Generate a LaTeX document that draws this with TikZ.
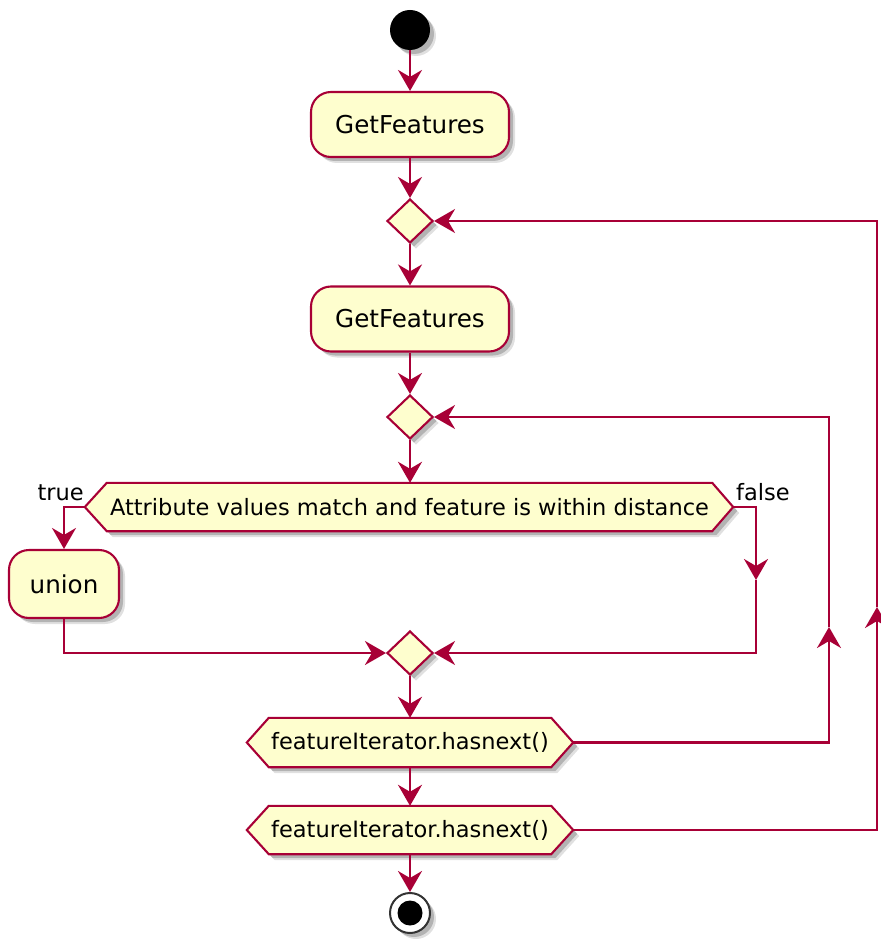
\documentclass[tikz,border=0pt]{standalone}
\usepackage{fontspec}
\setmainfont{DejaVu Sans}
\usetikzlibrary{arrows.meta,shadows,shapes.geometric}
\definecolor{pumlred}{HTML}{A80036}
\definecolor{pumlfill}{HTML}{FEFECE}
\pgfdeclarelayer{background}
\pgfsetlayers{background,main}
\tikzset{
  shad/.style={drop shadow={shadow xshift=6pt, shadow yshift=-6pt, opacity=0.12, fill=black},
               drop shadow={shadow xshift=4pt, shadow yshift=-4pt, opacity=0.2, fill=black}},
  act/.style={draw=pumlred, fill=pumlfill, line width=2.1pt, rounded corners=20pt, inner sep=0pt,
    minimum width=198pt, minimum height=65pt, font=\fontsize{24.6}{28}\selectfont, shad},
  dia/.style={diamond, draw=pumlred, fill=pumlfill, line width=2.1pt, inner sep=0pt,
    minimum width=46pt, minimum height=44pt, shad},
  hextext/.style={inner sep=0pt, minimum height=48pt, font=\fontsize{22.5}{26}\selectfont},
  hexshape/.style={draw=pumlred, fill=pumlfill, line width=2.1pt, line join=miter, shad},
  flow/.style={draw=pumlred, line width=2.4pt, -{Stealth[length=21pt,width=24pt,inset=7pt]}},
  lbl/.style={inner sep=0pt, font=\fontsize{22.5}{26}\selectfont},
  startc/.style={circle, fill=black, minimum size=40pt, inner sep=0pt, shad},
  endc/.style={circle, draw=black!80, fill=white, line width=2pt, minimum size=40pt, inner sep=0pt, shad},
  endin/.style={circle, fill=black, minimum size=25pt, inner sep=0pt},
}
\begin{document}
\begin{tikzpicture}[x=1pt,y=-1pt]
\useasboundingbox (0,0) rectangle (880,941);
\node[startc] (start) at (410,30) {};
\node[act] (gf1) at (410,124.5) {GetFeatures};
\node[dia] (d1) at (410,221) {};
\node[act] (gf2) at (410,319) {GetFeatures};
\node[dia] (d2) at (410,417) {};
\node[hextext, minimum width=605pt] (h1) at (409.5,507) {Attribute values match and feature is within distance};
\node[lbl, anchor=base east] (ltrue) at (84,500) {true};
\node[lbl, anchor=base west] (lfalse) at (736,500) {false};
\node[act, minimum width=110pt, minimum height=68pt] (un) at (64,584) {union};
\node[dia] (d3) at (410,653) {};
\node[hextext, minimum width=282pt, minimum height=49pt] (h2) at (410,742.5) {featureIterator.hasnext()};
\node[hextext, minimum width=282pt, minimum height=48pt] (h3) at (410,830) {featureIterator.hasnext()};
\node[endc] (stop) at (410,913) {};
\node[endin] (stopin) at (stop) {};

\coordinate (h1l) at ([xshift=-22pt]h1.west);
\coordinate (h1r) at ([xshift=21pt]h1.east);
\coordinate (h2l) at ([xshift=-22pt]h2.west);
\coordinate (h2r) at ([xshift=22pt]h2.east);
\coordinate (h3l) at ([xshift=-22pt]h3.west);
\coordinate (h3r) at ([xshift=22pt]h3.east);

\begin{pgfonlayer}{background}
\path[hexshape] (h1.north west) -- (h1.north east) -- (h1r) -- (h1.south east) -- (h1.south west) -- (h1l) -- cycle;
\path[hexshape] (h2.north west) -- (h2.north east) -- (h2r) -- (h2.south east) -- (h2.south west) -- (h2l) -- cycle;
\path[hexshape] (h3.north west) -- (h3.north east) -- (h3r) -- (h3.south east) -- (h3.south west) -- (h3l) -- cycle;
\end{pgfonlayer}

\coordinate (fmid) at (756,580);
\coordinate (imid) at (829,627);
\coordinate (omid) at (877,607);

\draw[flow] (start.south) -- (gf1.north);
\draw[flow] (gf1.south) -- (d1.north);
\draw[flow] (d1.south) -- (gf2.north);
\draw[flow] (gf2.south) -- (d2.north);
\draw[flow] (d2.south) -- (d2.south |- h1.north);
\draw[flow] (h1l) -| (un.north);
\draw[flow] (h1r) -| (fmid);
\draw[flow] (fmid) |- (d3.east);
\draw[flow] (un.south) |- (d3.west);
\draw[flow] (d3.south) -- (h2.north);
\draw[flow] (h2r) -| (imid);
\draw[flow] (imid) |- (d2.east);
\draw[flow] (h2.south) -- (h3.north);
\draw[flow] (h3r) -| (omid);
\draw[flow] (omid) |- (d1.east);
\draw[flow] (h3.south) -- (stop.north);
\end{tikzpicture}
\end{document}
